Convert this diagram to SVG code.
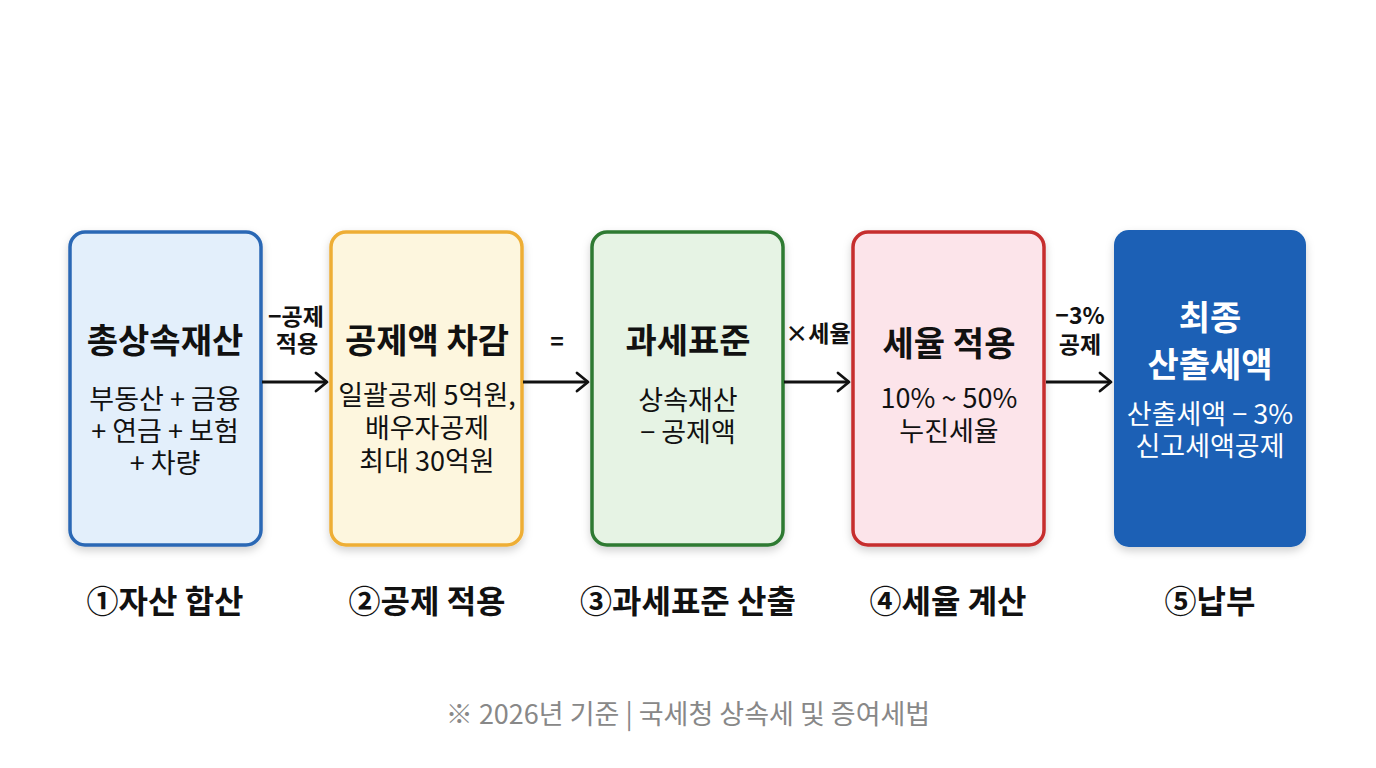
<svg xmlns="http://www.w3.org/2000/svg" width="1376" height="768" viewBox="0 0 1376 768">
<defs>
<filter id="sh" x="-20%" y="-20%" width="140%" height="140%">
<feDropShadow dx="0" dy="4" stdDeviation="4" flood-color="#000" flood-opacity="0.18"/>
</filter>
<marker id="ah" markerWidth="16" markerHeight="22" refX="13" refY="11" orient="auto" markerUnits="userSpaceOnUse">
<path d="M2,2 L13,11 L2,20" fill="none" stroke="#111" stroke-width="2.8" stroke-linecap="round" stroke-linejoin="round"/>
</marker>
<style>
text{font-family:"Noto Sans CJK KR","Noto Sans",sans-serif;text-anchor:middle;fill:#111}
.t{font-size:34px;font-weight:700}
.s{font-size:27px;font-weight:400}
.l{font-size:23px;font-weight:700}
.b{font-size:32px;font-weight:700}
.f{font-size:27px;fill:#888}
.w{fill:#fff}
.box{stroke-width:3.5;filter:url(#sh)}
.c{stroke:#111;stroke-width:2.8;fill:none;marker-end:url(#ah)}
</style>
</defs>
<rect width="1376" height="768" fill="#fff"/>
<g id="node1">
<rect class="box" x="70" y="232" width="191" height="313" rx="15" fill="#e3effb" stroke="#2b68b5"/>
<text class="t" x="165" y="353">총상속재산</text>
<text class="s" x="165" y="409">부동산 + 금융<tspan x="165" dy="32">+ 연금 + 보험</tspan><tspan x="165" dy="32">+ 차량</tspan></text>
</g>
<g id="node2">
<rect class="box" x="331" y="232" width="191" height="313" rx="15" fill="#fdf6de" stroke="#eeae35"/>
<text class="t" x="427" y="353">공제액 차감</text>
<text class="s" x="427" y="405">일괄공제 5억원,<tspan x="427" dy="33">배우자공제</tspan><tspan x="427" dy="33">최대 30억원</tspan></text>
</g>
<g id="node3">
<rect class="box" x="592" y="232" width="191" height="313" rx="15" fill="#e6f3e4" stroke="#2f7a33"/>
<text class="t" x="688" y="353">과세표준</text>
<text class="s" x="688" y="410">상속재산<tspan x="688" dy="32">− 공제액</tspan></text>
</g>
<g id="node4">
<rect class="box" x="853" y="232" width="191" height="313" rx="15" fill="#fce4ea" stroke="#c62d2d"/>
<text class="t" x="949" y="356">세율 적용</text>
<text class="s" x="949" y="408">10% ~ 50%<tspan x="949" dy="33">누진세율</tspan></text>
</g>
<g id="node5">
<rect x="1114" y="230" width="192" height="317" rx="15" fill="#1a60b5" filter="url(#sh)"/>
<text class="t w" x="1210" y="330">최종<tspan x="1210" dy="47">산출세액</tspan></text>
<text class="s w" x="1210" y="424">산출세액 − 3%<tspan x="1210" dy="32">신고세액공제</tspan></text>
</g>
<g id="connectors">
<line class="c" x1="262" y1="382" x2="327" y2="382"/>
<line class="c" x1="523" y1="382" x2="588" y2="382"/>
<line class="c" x1="784" y1="382" x2="849" y2="382"/>
<line class="c" x1="1046" y1="382" x2="1111" y2="382"/>
<text class="l" x="296" y="325">−공제<tspan x="297" dy="27">적용</tspan></text>
<text class="l" x="557" y="350">=</text>
<text class="l" x="818" y="342">×세율</text>
<text class="l" x="1080" y="324">−3%<tspan x="1080" dy="29">공제</tspan></text>
</g>
<g id="steps">
<text class="b" x="165" y="613">①자산 합산</text>
<text class="b" x="427" y="613">②공제 적용</text>
<text class="b" x="688" y="613">③과세표준 산출</text>
<text class="b" x="948" y="613">④세율 계산</text>
<text class="b" x="1210" y="613">⑤납부</text>
</g>
<text class="f" x="688" y="724">※ 2026년 기준 | 국세청 상속세 및 증여세법</text>
</svg>
